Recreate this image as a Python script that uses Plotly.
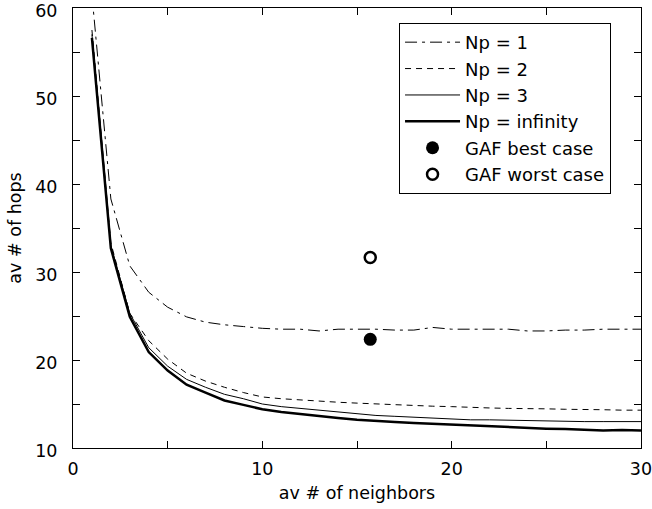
import plotly.graph_objects as go

x = list(range(1, 31))
np1 = [61.5, 38.3, 30.7, 27.7, 26.0, 24.9, 24.3, 24.0, 23.8, 23.6,
       23.5, 23.5, 23.3, 23.5, 23.5, 23.5, 23.4, 23.4, 23.7, 23.5,
       23.5, 23.5, 23.5, 23.3, 23.3, 23.4, 23.4, 23.5, 23.5, 23.5]
np2 = [57.5, 33.3, 25.3, 22.2, 20.1, 18.5, 17.6, 16.9, 16.3, 15.8,
       15.6, 15.45, 15.3, 15.2, 15.1, 15.0, 14.9, 14.8, 14.75, 14.7,
       14.6, 14.55, 14.5, 14.5, 14.45, 14.4, 14.4, 14.35, 14.3, 14.3]
np3 = [57.0, 33.0, 25.3, 21.4, 19.3, 17.8, 16.9, 16.1, 15.6, 15.0,
       14.7, 14.5, 14.3, 14.1, 13.85, 13.7, 13.6, 13.5, 13.4, 13.3,
       13.2, 13.2, 13.15, 13.1, 13.1, 13.05, 13.0, 13.0, 13.0, 13.0]
npinf = [56.6, 32.7, 24.9, 20.9, 18.8, 17.2, 16.3, 15.4, 14.9, 14.4,
         14.1, 13.85, 13.6, 13.4, 13.2, 13.05, 12.95, 12.85, 12.75, 12.65,
         12.55, 12.45, 12.35, 12.25, 12.2, 12.15, 12.1, 12.0, 12.05, 12.0]
gaf_x = [15.7]
gaf_best = [22.35]
gaf_worst = [31.65]

FONT = "DejaVu Sans, Arial, sans-serif"
FS = 17.5

fig = go.Figure()
fig.add_trace(go.Scatter(x=x, y=np1, mode="lines", name="Np = 1",
                         line=dict(color="black", width=1, dash="12px,5px,3px,5px")))
fig.add_trace(go.Scatter(x=x, y=np2, mode="lines", name="Np = 2",
                         line=dict(color="black", width=1, dash="6px,5px")))
fig.add_trace(go.Scatter(x=x, y=np3, mode="lines", name="Np = 3",
                         line=dict(color="black", width=1)))
fig.add_trace(go.Scatter(x=x, y=npinf, mode="lines", name="Np = infinity",
                         line=dict(color="black", width=2.5)))
fig.add_trace(go.Scatter(x=gaf_x, y=gaf_best, mode="markers", name="GAF best case",
                         marker=dict(color="black", size=13, symbol="circle")))
fig.add_trace(go.Scatter(x=gaf_x, y=gaf_worst, mode="markers", name="GAF worst case",
                         marker=dict(color="white", size=11, symbol="circle",
                                     line=dict(color="black", width=2.5))))

axis_common = dict(showgrid=False, zeroline=False, showline=True, linecolor="black",
                   linewidth=1, mirror="ticks", ticks="inside", ticklen=7,
                   tickcolor="black", automargin=False, ticklabeloverflow="allow",
                   tickfont=dict(size=FS, color="black", family=FONT),
                   minor=dict(ticks="inside", ticklen=7, tickcolor="black", dtick=5))

fig.update_xaxes(range=[0, 30], tick0=0, dtick=10, ticklabelstandoff=5,
                 title=dict(text="av # of neighbors", font=dict(size=FS, color="black", family=FONT), standoff=8),
                 **axis_common)
fig.update_yaxes(range=[10, 60], tick0=10, dtick=10, ticklabelstandoff=11,
                 ticklabelshift=3,
                 title=dict(text="av # of hops", font=dict(size=FS, color="black", family=FONT), standoff=9),
                 **axis_common)

fig.update_layout(
    width=652, height=509,
    margin=dict(l=73, r=11, t=8, b=61),
    paper_bgcolor="white", plot_bgcolor="white",
    font=dict(family=FONT, color="black"),
    legend=dict(x=0.574, y=0.966, xanchor="left", yanchor="top",
                bgcolor="white", bordercolor="black", borderwidth=1,
                font=dict(size=18, color="black", family=FONT),
                itemwidth=55, tracegroupgap=0),
    showlegend=True,
)

fig.write_html("out.html", config={"displayModeBar": False},
               post_script="document.body.style.margin='0px';")
